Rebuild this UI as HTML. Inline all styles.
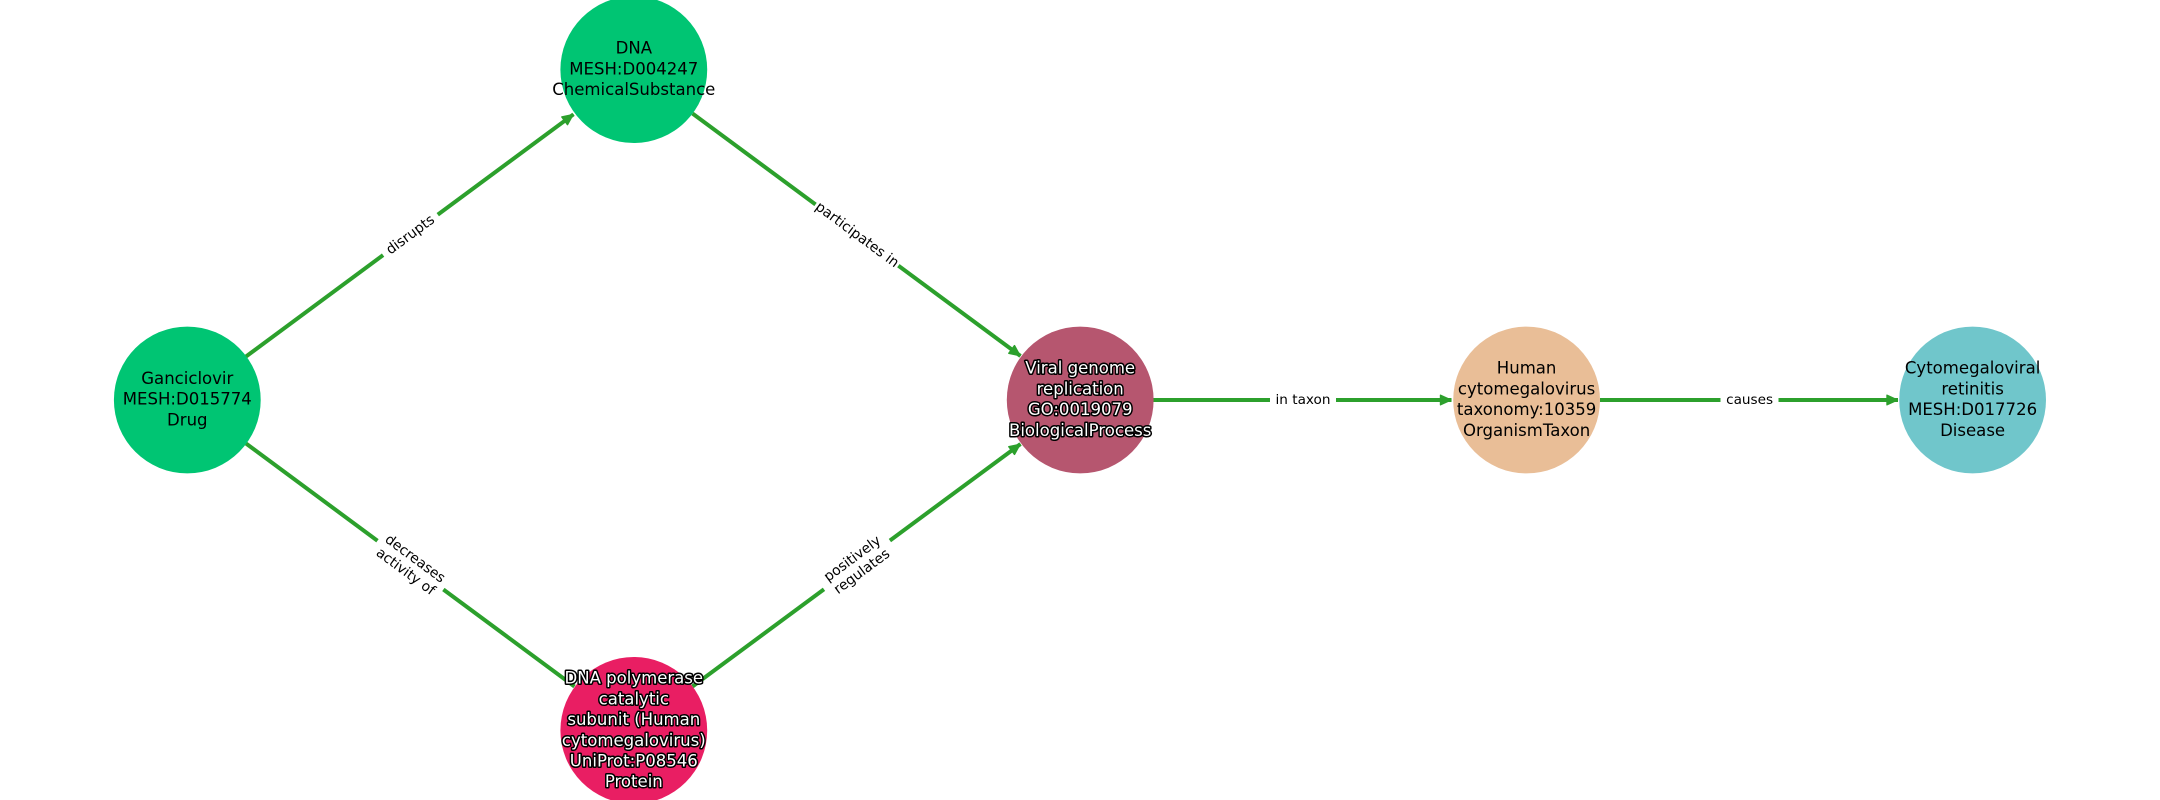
<!DOCTYPE html>
<html>
<head>
<meta charset="utf-8">
<style>
html,body{margin:0;padding:0;background:#fff;}
svg{display:block;font-family:"DejaVu Sans",sans-serif;}
.n{font-size:16.55px;text-anchor:middle;fill:#000;}
.w{font-size:16.55px;text-anchor:middle;fill:#fff;stroke:#000;stroke-width:3px;paint-order:stroke;stroke-linejoin:round;}
.e{font-size:13.6px;text-anchor:middle;fill:#000;}
.r{font-size:13.95px;text-anchor:middle;fill:#000;}
</style>
</head>
<body>
<svg width="2160" height="800" viewBox="0 0 2160 800" xmlns="http://www.w3.org/2000/svg">
<rect width="2160" height="800" fill="#fff"/>
<defs>
<marker id="a" markerUnits="userSpaceOnUse" markerWidth="16" markerHeight="16" refX="13" refY="8" orient="auto">
<path d="M2 3.2 L12.5 8 L2 12.8 Z" fill="#2ca02c" stroke="#2ca02c" stroke-width="1.4" stroke-linejoin="round"/>
</marker>
</defs>
<g stroke="#2ca02c" stroke-width="4" fill="none">
<line x1="246" y1="356.5" x2="573.5" y2="114.3" marker-end="url(#a)"/>
<line x1="692.5" y1="113.5" x2="1020.5" y2="356" marker-end="url(#a)"/>
<line x1="246" y1="443.5" x2="574.5" y2="686.5"/>
<line x1="692.5" y1="686.5" x2="1020.5" y2="444" marker-end="url(#a)"/>
<line x1="1153" y1="400" x2="1451.5" y2="400" marker-end="url(#a)"/>
<line x1="1600" y1="400" x2="1898" y2="400" marker-end="url(#a)"/>
</g>
<circle cx="187.3" cy="400" r="73.4" fill="#00c573"/>
<circle cx="633.8" cy="69.6" r="73.4" fill="#00c573"/>
<circle cx="633.8" cy="730.4" r="73.4" fill="#e91e63"/>
<circle cx="1080.2" cy="400" r="73.4" fill="#b6566f"/>
<circle cx="1526.6" cy="400" r="73.4" fill="#e9be97"/>
<circle cx="1972.6" cy="400" r="73.4" fill="#70c6cb"/>

<g class="n">
<text x="187.3" y="384">Ganciclovir</text>
<text x="187.3" y="404.7">MESH:D015774</text>
<text x="187.3" y="425.4">Drug</text>
<text x="633.8" y="53.7">DNA</text>
<text x="633.8" y="74.4">MESH:D004247</text>
<text x="633.8" y="95.1">ChemicalSubstance</text>
<text x="1526.6" y="373.7">Human</text>
<text x="1526.6" y="394.4">cytomegalovirus</text>
<text x="1526.6" y="415.1">taxonomy:10359</text>
<text x="1526.6" y="435.8">OrganismTaxon</text>
<text x="1972.6" y="373.7">Cytomegaloviral</text>
<text x="1972.6" y="394.4">retinitis</text>
<text x="1972.6" y="415.1">MESH:D017726</text>
<text x="1972.6" y="435.8">Disease</text>
</g>
<g class="w">
<text x="1080.2" y="373.7">Viral genome</text>
<text x="1080.2" y="394.4">replication</text>
<text x="1080.2" y="415.1">GO:0019079</text>
<text x="1080.2" y="435.8">BiologicalProcess</text>
<text x="633.8" y="683.7">DNA polymerase</text>
<text x="633.8" y="704.4">catalytic</text>
<text x="633.8" y="725.1">subunit (Human</text>
<text x="633.8" y="745.8">cytomegalovirus)</text>
<text x="633.8" y="766.5">UniProt:P08546</text>
<text x="633.8" y="787.2">Protein</text>
</g>

<g transform="translate(410.5,235) rotate(-36.5)">
<rect x="-34" y="-11" width="68" height="22" fill="#fff"/>
<text class="r" x="0" y="4">disrupts</text>
</g>
<g transform="translate(857,235) rotate(36.5)">
<rect x="-51.5" y="-11" width="103" height="22" fill="#fff"/>
<text class="r" x="0" y="4">participates in</text>
</g>
<g transform="translate(410.5,565) rotate(36.5)">
<rect x="-41" y="-20" width="82" height="40" fill="#fff"/>
<text class="r" x="0" y="-3.5">decreases</text>
<text class="r" x="0" y="12.5">activity of</text>
</g>
<g transform="translate(857,565) rotate(-36.5)">
<rect x="-41" y="-20" width="82" height="40" fill="#fff"/>
<text class="r" x="0" y="-3.5">positively</text>
<text class="r" x="0" y="12.5">regulates</text>
</g>
<rect x="1270" y="388" width="66" height="24" fill="#fff"/>
<text class="e" x="1303" y="404">in taxon</text>
<rect x="1720.5" y="388" width="58" height="24" fill="#fff"/>
<text class="e" x="1749.6" y="404">causes</text>
</svg>
</body>
</html>
